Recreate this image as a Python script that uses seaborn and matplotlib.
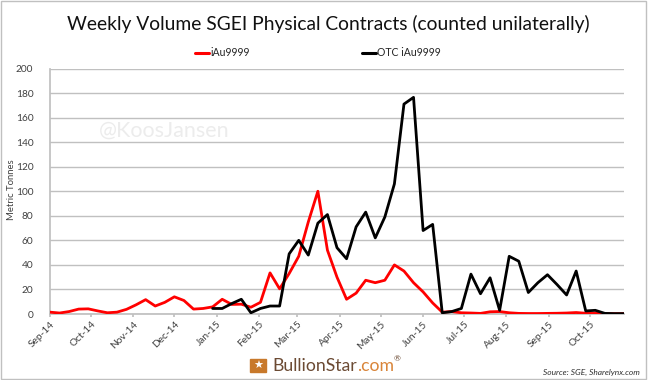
import pandas as pd
import matplotlib
matplotlib.use('Agg')
import matplotlib.pyplot as plt
import matplotlib.dates as mdates
from matplotlib.patches import Rectangle
import seaborn as sns

start_date = '2014-09-01'
n_weeks = 61
iau9999 = [1.5, 0.8, 2, 4, 4.2, 2.5, 1, 1.5, 3.8, 7.5, 11.7, 6.5, 9.5, 14, 11, 4, 4.5, 5.8, 12, 7.8, 8,
           5.5, 9.5, 33.5, 20.5, 33, 47, 75, 100, 52, 30, 12, 17, 27.5, 25.5, 27.5, 40, 35, 25.5, 18, 9,
           1.5, 2, 1, 0.8, 0.5, 1.8, 2, 1, 0.5, 0.4, 0.4, 0.5, 0.6, 0.8, 1.2, 0.6, 0.8, 0.3, 0.3, 0.3]
otc_iau9999 = [None] * 17 + [4.5, 4.5, 8.5, 12, 1, 4.5, 6.5, 6.5, 49, 60, 48, 74, 81, 54, 45, 71, 83, 62, 79,
                             106, 171, 176.5, 68, 73, 1, 2, 4.5, 32.5, 16.5, 29.5, 3, 47, 43, 17.5, 25.5,
                             32, 24, 15.5, 35, 2.5, 3, 0.5, 0.3, 0.3]
y_ticks = [0, 20, 40, 60, 80, 100, 120, 140, 160, 180, 200]

sns.set_theme(style='white')
plt.rcParams['font.family'] = ['Lato', 'DejaVu Sans']

dates = pd.date_range(start_date, periods=n_weeks, freq='7D')
df = pd.DataFrame({'date': dates, 'iAu9999': iau9999, 'OTC iAu9999': otc_iau9999})
df['OTC iAu9999'] = pd.to_numeric(df['OTC iAu9999'])
long_df = df.melt('date', var_name='series', value_name='tonnes').dropna()

fig = plt.figure(figsize=(6.51, 3.80), dpi=100)
ax = fig.add_axes([50 / 651, 1 - 314 / 380, 574 / 651, 245.5 / 380])

sns.lineplot(data=long_df, x='date', y='tonnes', hue='series', ax=ax, linewidth=2.0,
             palette={'iAu9999': '#ff0000', 'OTC iAu9999': '#000000'}, legend=False, zorder=3)

ax.set_xlim(dates[0], dates[-1])
ax.set_ylim(0, 200)
ax.set_yticks(y_ticks)
ax.yaxis.grid(True, color='#c0c0c0', linewidth=1)
ax.xaxis.grid(False)
ax.xaxis.set_major_locator(mdates.MonthLocator())
ax.xaxis.set_major_formatter(mdates.DateFormatter('%b-%y'))
ax.tick_params(axis='x', labelsize=7.3, colors='#404040', length=2, color='#c0c0c0', pad=2, bottom=True)
ax.tick_params(axis='y', labelsize=7.3, colors='#404040', pad=6)
plt.setp(ax.get_xticklabels(), rotation=45, ha='right', rotation_mode='anchor')
ax.set_xlabel('')
ax.set_ylabel('')
for side in ['top', 'right']:
    ax.spines[side].set_visible(False)
for side in ['left', 'bottom']:
    ax.spines[side].set_color('#c0c0c0')

fig.text(12 / 651, 1 - 190 / 380, 'Metric Tonnes', rotation=90, ha='center', va='center',
         fontsize=6.8, color='#404040')
fig.text(328 / 651, 1 - 24 / 380, 'Weekly Volume SGEI Physical Contracts (counted unilaterally)',
         ha='center', va='center', fontsize=13.9, color='#111111')

# legend placed by hand above the plot
fig.add_artist(plt.Line2D([195 / 651, 209 / 651], [1 - 52.5 / 380] * 2, color='#ff0000', lw=2.2))
fig.text(210 / 651, 1 - 53 / 380, 'iAu9999', va='center', fontsize=7.6, color='#262626')
fig.add_artist(plt.Line2D([362 / 651, 376 / 651], [1 - 52.5 / 380] * 2, color='#000000', lw=2.2))
fig.text(377 / 651, 1 - 53 / 380, 'OTC iAu9999', va='center', fontsize=7.6, color='#262626')

fig.text(99 / 651, 1 - 131 / 380, '@KoosJansen', va='center', fontsize=15.5, color='#ececec')
fig.text(640 / 651, 1 - 372.5 / 380, 'Source: SGE, Sharelynx.com', ha='right', va='center',
         fontsize=6, style='italic', color='#303030')

# logo
fig.add_artist(Rectangle((250 / 651, 1 - 372 / 380), 16 / 651, 13 / 380, color='#c8792b'))
fig.text(258 / 651, 1 - 365.5 / 380, '★', ha='center', va='center', fontsize=8, color='white',
         family=['DejaVu Sans'])
t1 = fig.text(272 / 651, 1 - 366 / 380, 'BullionStar', va='center', fontsize=12.7, color='#6b4a33')
fig.canvas.draw()
bb = t1.get_window_extent()
t2 = fig.text(bb.x1 / 651, 1 - 366 / 380, '.com', va='center', fontsize=12.7, color='#d9853a')
bb2 = t2.get_window_extent()
fig.text(bb2.x1 / 651, 1 - 359 / 380, '®', va='center', fontsize=6, color='#6b4a33')

# outer chart border
fig.add_artist(Rectangle((1 / 651, 1 / 380), 644.5 / 651, 378 / 380, fill=False, edgecolor='#c0c0c0', lw=1))

fig.savefig('out.png', dpi=100)
